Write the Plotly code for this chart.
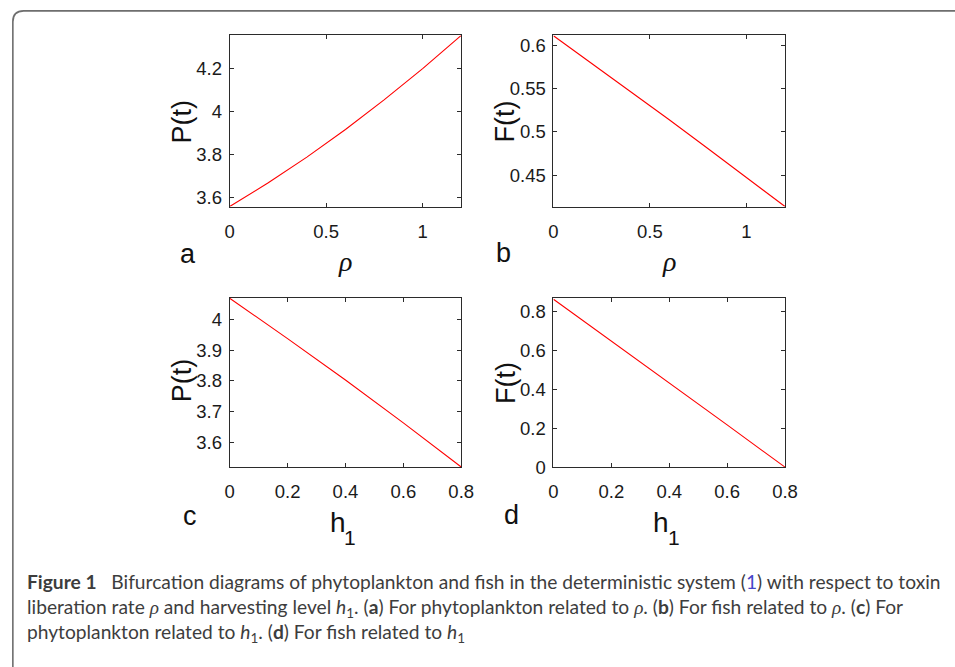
import plotly.graph_objects as go

W, H = 955, 667

# ---- data -------------------------------------------------------------
rho = [0.0, 0.2, 0.4, 0.6, 0.8, 1.0, 1.2]
P_rho = [3.559, 3.669, 3.788, 3.916, 4.053, 4.198, 4.352]
F_rho = [0.611, 0.579, 0.547, 0.514, 0.481, 0.448, 0.414]

h1 = [0.0, 0.2, 0.4, 0.6, 0.8]
P_h1 = [4.068, 3.937, 3.803, 3.664, 3.521]
F_h1 = [0.862, 0.648, 0.433, 0.217, 0.0]

rho_ticks = [0, 0.5, 1]
rho_ticktext = ["0", "0.5", "1"]
h1_ticks = [0, 0.2, 0.4, 0.6, 0.8]
h1_ticktext = ["0", "0.2", "0.4", "0.6", "0.8"]
Pa_ticks = [3.6, 3.8, 4.0, 4.2]
Pa_ticktext = ["3.6", "3.8", "4", "4.2"]
Fb_ticks = [0.45, 0.5, 0.55, 0.6]
Fb_ticktext = ["0.45", "0.5", "0.55", "0.6"]
Pc_ticks = [3.6, 3.7, 3.8, 3.9, 4.0]
Pc_ticktext = ["3.6", "3.7", "3.8", "3.9", "4"]
Fd_ticks = [0, 0.2, 0.4, 0.6, 0.8]
Fd_ticktext = ["0", "0.2", "0.4", "0.6", "0.8"]


def px(x):
    return x / W


def py(y):
    return 1 - y / H


# panel boxes in pixels: (left, right, top, bottom)
boxes = {
    "a": (229, 465, 35, 209),
    "b": (559, 795, 35, 209),
    "c": (229, 465, 302, 474),
    "d": (559, 795, 302, 474),
}

ARIAL = "Liberation Sans, Arial, sans-serif"
TICKFONT = dict(family=ARIAL, size=18.5, color="#1a1a1a")
LINE = "#2b2b2b"

fig = go.Figure()

panels = [
    ("a", rho, P_rho, [0, 1.2], [3.559, 4.352], rho_ticks, rho_ticktext, Pa_ticks, Pa_ticktext),
    ("b", rho, F_rho, [0, 1.2], [0.414, 0.6113], rho_ticks, rho_ticktext, Fb_ticks, Fb_ticktext),
    ("c", h1, P_h1, [0, 0.8], [3.5206, 4.0686], h1_ticks, h1_ticktext, Pc_ticks, Pc_ticktext),
    ("d", h1, F_h1, [0, 0.8], [0, 0.868], h1_ticks, h1_ticktext, Fd_ticks, Fd_ticktext),
]

layout_axes = {}
for i, (key, xs, ys, xr, yr, xt, xtt, yt, ytt) in enumerate(panels, start=1):
    sfx = "" if i == 1 else str(i)
    fig.add_trace(go.Scatter(
        x=xs, y=ys, mode="lines", line=dict(color="#ff0000", width=1.1),
        xaxis="x" + sfx, yaxis="y" + sfx, showlegend=False, hoverinfo="skip",
    ))
    l, r, t, b = boxes[key]
    common = dict(
        showline=True, linecolor=LINE, linewidth=1, mirror="ticks",
        ticks="inside", ticklen=4, tickcolor=LINE, tickwidth=1,
        showgrid=False, zeroline=False, tickfont=TICKFONT, fixedrange=True,
    )
    layout_axes["xaxis" + sfx] = dict(
        domain=[px(l), px(r)], range=xr, anchor="y" + sfx,
        tickmode="array", tickvals=xt, ticktext=xtt, ticklabelstandoff=8, **common,
    )
    layout_axes["yaxis" + sfx] = dict(
        domain=[py(b), py(t)], range=yr, anchor="x" + sfx,
        tickmode="array", tickvals=yt, ticktext=ytt, ticklabelstandoff=3, **common,
    )

fig.update_layout(**layout_axes)

ann = []

# y-axis titles
for txt, x, y in [("P(t)", 180, 123), ("F(t)", 510, 122), ("P(t)", 180, 386), ("F(t)", 510, 388)]:
    ann.append(dict(text=txt, x=px(x), y=py(y), xref="paper", yref="paper",
                    textangle=-90, showarrow=False, xanchor="center", yanchor="middle",
                    font=dict(family=ARIAL, size=27, color="#111111")))

# panel letters
for txt, x, y in [("a", 187, 257), ("b", 508, 256), ("c", 189, 524), ("d", 516, 523)]:
    ann.append(dict(text=txt, x=px(x), y=py(y), xref="paper", yref="paper",
                    showarrow=False, xanchor="center", yanchor="middle",
                    font=dict(family=ARIAL, size=27, color="#111111")))

# x-axis titles
for x in (347, 677):
    ann.append(dict(text="<i>ρ</i>", x=px(x), y=py(265), xref="paper", yref="paper",
                    showarrow=False, xanchor="center", yanchor="middle",
                    font=dict(family="Liberation Serif, Times New Roman, serif", size=28, color="#111111")))
for x in (339, 669):
    ann.append(dict(text="h", x=px(x), y=py(530), xref="paper", yref="paper",
                    showarrow=False, xanchor="center", yanchor="middle",
                    font=dict(family=ARIAL, size=28, color="#111111")))
    ann.append(dict(text="1", x=px(x + 13), y=py(546), xref="paper", yref="paper",
                    showarrow=False, xanchor="center", yanchor="middle",
                    font=dict(family=ARIAL, size=21, color="#111111")))

# caption
RHO = "<span style=\"font-family:'Liberation Serif',serif\"><i>ρ</i></span>"
H1 = "<i>h</i><sub>1</sub>"
caption = (
    "<b>Figure 1</b>\u00a0\u00a0 Bifurcation diagrams of phytoplankton and fish in the deterministic system "
    "(<span style=\"color:#4646c8\">1</span>) with respect to toxin<br>"
    f"liberation rate {RHO} and harvesting level {H1}. (<b>a</b>) For phytoplankton related to {RHO}. "
    f"(<b>b</b>) For fish related to {RHO}. (<b>c</b>) For<br>"
    f"phytoplankton related to {H1}. (<b>d</b>) For fish related to {H1}"
)
ann.append(dict(text=caption, x=px(20), y=py(577), xref="paper", yref="paper",
                showarrow=False, xanchor="left", yanchor="top", align="left",
                font=dict(family="Lato, Open Sans, sans-serif", size=19.2, color="#3d3d3d")))

fig.update_layout(annotations=ann)

# rounded frame around the figure
x0, y0, r = 8, 10, 11
frame = (f"M {px(x0)},{py(720)} L {px(x0)},{py(y0 + r)} "
         f"Q {px(x0)},{py(y0)} {px(x0 + r)},{py(y0)} L {px(1000)},{py(y0)}")
fig.add_shape(type="path", path=frame, xref="paper", yref="paper",
              line=dict(color="#6e6e6e", width=1.6))

fig.update_layout(
    width=W, height=H, margin=dict(l=0, r=0, t=0, b=0),
    paper_bgcolor="white", plot_bgcolor="white", showlegend=False,
)

fig.write_html("out.html", config={"displayModeBar": False})
